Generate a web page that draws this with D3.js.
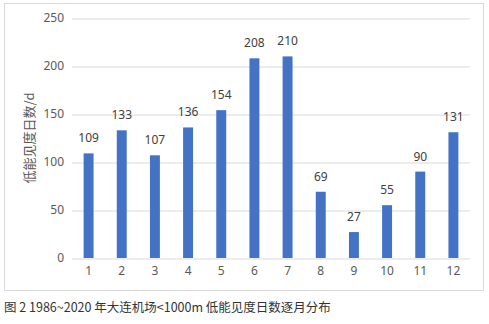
<!DOCTYPE html>
<html>
<head>
<meta charset="utf-8">
<script src="https://cdn.jsdelivr.net/npm/d3@7"></script>
<style>
  html, body { margin: 0; padding: 0; background: #fff; }
  svg { display: block; }
</style>
</head>
<body>
<svg id="chart" width="489" height="324"></svg>
<script>
// Monthly low-visibility days (<1000 m), Dalian airport, 1986–2020
const months = ["1", "2", "3", "4", "5", "6", "7", "8", "9", "10", "11", "12"];
const days = [109, 133, 107, 136, 154, 208, 210, 69, 27, 55, 90, 131];
const yTicks = [0, 50, 100, 150, 200, 250];
const yTitle = "低能见度日数/d";
const caption = "图 2 1986~2020 年大连机场<1000m 低能见度日数逐月分布";

const svg = d3.select("#chart");
const numFont = "'Noto Sans', 'Liberation Sans', sans-serif";
const cjkFont = "'Noto Sans CJK SC', 'Noto Sans', sans-serif";

// chart frame
svg.append("rect")
  .attr("x", 4.5).attr("y", 3.5)
  .attr("width", 479).attr("height", 287)
  .attr("fill", "#fff").attr("stroke", "#d9d9d9").attr("stroke-width", 1);

const plot = { left: 72, right: 470, top: 18, bottom: 258 };

const x = d3.scaleBand()
  .domain(months)
  .range([plot.left, plot.right])
  .paddingInner(0.7).paddingOuter(0.35);

const y = d3.scaleLinear()
  .domain([0, 250])
  .range([plot.bottom, plot.top]);

// horizontal gridlines + y labels
const yAxis = d3.axisLeft(y)
  .tickValues(yTicks)
  .tickSize(-(plot.right - plot.left))
  .tickPadding(8);

const gy = svg.append("g")
  .attr("transform", `translate(${plot.left},0)`)
  .call(yAxis);
gy.select(".domain").remove();
gy.selectAll(".tick line").attr("stroke", "#d9d9d9").attr("stroke-width", 1)
  .attr("transform", "translate(0,0.5)");
gy.selectAll(".tick text")
  .attr("fill", "#595959")
  .style("font-family", numFont)
  .style("font-size", "12px");

// x labels
const xAxis = d3.axisBottom(x).tickSize(0).tickPadding(8);
const gx = svg.append("g")
  .attr("transform", `translate(0,${plot.bottom})`)
  .call(xAxis);
gx.select(".domain").remove();
gx.selectAll(".tick text")
  .attr("fill", "#595959")
  .style("font-family", numFont)
  .style("font-size", "12px");

// bars
svg.append("g").selectAll("rect")
  .data(days)
  .join("rect")
  .attr("x", (d, i) => x(months[i]))
  .attr("y", d => y(d))
  .attr("width", x.bandwidth())
  .attr("height", d => y(0) - y(d))
  .attr("fill", "#4472c4");

// value labels
svg.append("g").selectAll("text")
  .data(days)
  .join("text")
  .attr("x", (d, i) => x(months[i]) + x.bandwidth() / 2)
  .attr("y", d => y(d) - 11)
  .attr("text-anchor", "middle")
  .attr("fill", "#404040")
  .style("font-family", numFont)
  .style("font-size", "12px")
  .text(d => d);

// y-axis title
svg.append("text")
  .attr("transform", `translate(34,${(plot.top + plot.bottom) / 2}) rotate(-90)`)
  .attr("text-anchor", "middle")
  .attr("fill", "#595959")
  .style("font-family", cjkFont)
  .style("font-size", "13px")
  .text(yTitle);

// figure caption
svg.append("text")
  .attr("x", 4)
  .attr("y", 312)
  .attr("fill", "#333")
  .style("font-family", cjkFont)
  .style("font-size", "12.5px")
  .text(caption);
</script>
</body>
</html>
